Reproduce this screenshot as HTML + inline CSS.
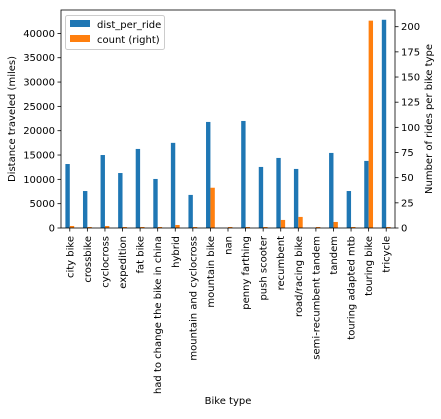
<!DOCTYPE html>
<html><head><meta charset="utf-8"><style>
body{margin:0;background:#fff}
svg text{font-family:"DejaVu Sans","Liberation Sans",sans-serif;font-size:10px;fill:#000}
</style></head><body>
<svg id="c" width="441" height="414" xmlns="http://www.w3.org/2000/svg"></svg>
<script>
const categories=["city bike","crossbike","cyclocross","expedition","fat bike","had to change the bike in china","hybrid","mountain and cyclocross","mountain bike","nan","penny farthing","push scooter","recumbent","road/racing bike","semi-recumbent tandem","tandem","touring adapted mtb","touring bike","tricycle"];
const distPerRide=[13150,7600,15000,11300,16250,10080,17500,6800,21800,0,22000,12550,14400,12140,0,15430,7600,13790,42800];
const counts=[2,1,2,1,1,1,3,1,40,1,1,1,8,11,1,6,1,206,1];
const leftTicks=[0,5000,10000,15000,20000,25000,30000,35000,40000];
const rightTicks=[0,25,50,75,100,125,150,175,200];
const NS="http://www.w3.org/2000/svg";
const svg=document.getElementById('c');
const L=61,R=395,T=10,B=228;
const yL=v=>B-v*(B-33.4)/40000;
const yR=v=>B-v*(B-26.7)/200;
const step=(R-L)/categories.length;
const xC=i=>L+step*(i+0.5);
const bw=step*0.25;
function mk(tag,attrs,parent){const e=document.createElementNS(NS,tag);for(const k in attrs)e.setAttribute(k,attrs[k]);(parent||svg).appendChild(e);return e;}
categories.forEach((c,i)=>{
  const b=mk('rect',{x:xC(i)-bw,y:yL(distPerRide[i]),width:bw,height:B-yL(distPerRide[i]),fill:'#1f77b4'});
  
  
  const o=mk('rect',{x:xC(i),y:yR(counts[i]),width:bw,height:B-yR(counts[i]),fill:'#ff7f0e'});
  
  
  mk('line',{x1:xC(i),x2:xC(i),y1:B,y2:B+3.5,stroke:'#000','stroke-width':0.8});
  const t=mk('text',{transform:`translate(${xC(i)+3.5},${B+8}) rotate(-90)`,'text-anchor':'end'});
  t.textContent=c;
  
  
});
leftTicks.forEach(v=>{
  mk('line',{x1:L-3.5,x2:L,y1:yL(v),y2:yL(v),stroke:'#000','stroke-width':0.8});
  const t=mk('text',{x:L-6,y:yL(v)+3.5,'text-anchor':'end'});t.textContent=v;
  
  
});
rightTicks.forEach(v=>{
  mk('line',{x1:R,x2:R+3.5,y1:yR(v),y2:yR(v),stroke:'#000','stroke-width':0.8});
  const t=mk('text',{x:R+6,y:yR(v)+3.5});t.textContent=v;
  
  
});
mk('rect',{x:L,y:T,width:R-L,height:B-T,fill:'none',stroke:'#000','stroke-width':0.8});
</script>
<svg width="441" height="414" style="position:absolute;left:0;top:0" xmlns="http://www.w3.org/2000/svg">
<g>
<rect x="65.5" y="15.5" width="99" height="34" rx="2" fill="#fff" fill-opacity="0.8" stroke="#ccc"/>
<rect x="70" y="20" width="20" height="7" fill="#1f77b4"/>
<text x="97" y="28" style="font-family:'DejaVu Sans',sans-serif;font-size:10px">dist_per_ride</text>
<rect x="70" y="35" width="20" height="7" fill="#ff7f0e"/>
<text x="97" y="43" style="font-family:'DejaVu Sans',sans-serif;font-size:10px">count (right)</text>
</g>
<text transform="translate(15,119) rotate(-90)" text-anchor="middle" style="font-family:'DejaVu Sans',sans-serif;font-size:10px">Distance traveled (miles)</text>
<text transform="translate(432,119) rotate(-90)" text-anchor="middle" style="font-family:'DejaVu Sans',sans-serif;font-size:10px">Number of rides per bike type</text>
<text x="228" y="404" text-anchor="middle" style="font-family:'DejaVu Sans',sans-serif;font-size:10px">Bike type</text>
</svg>
</body></html>
